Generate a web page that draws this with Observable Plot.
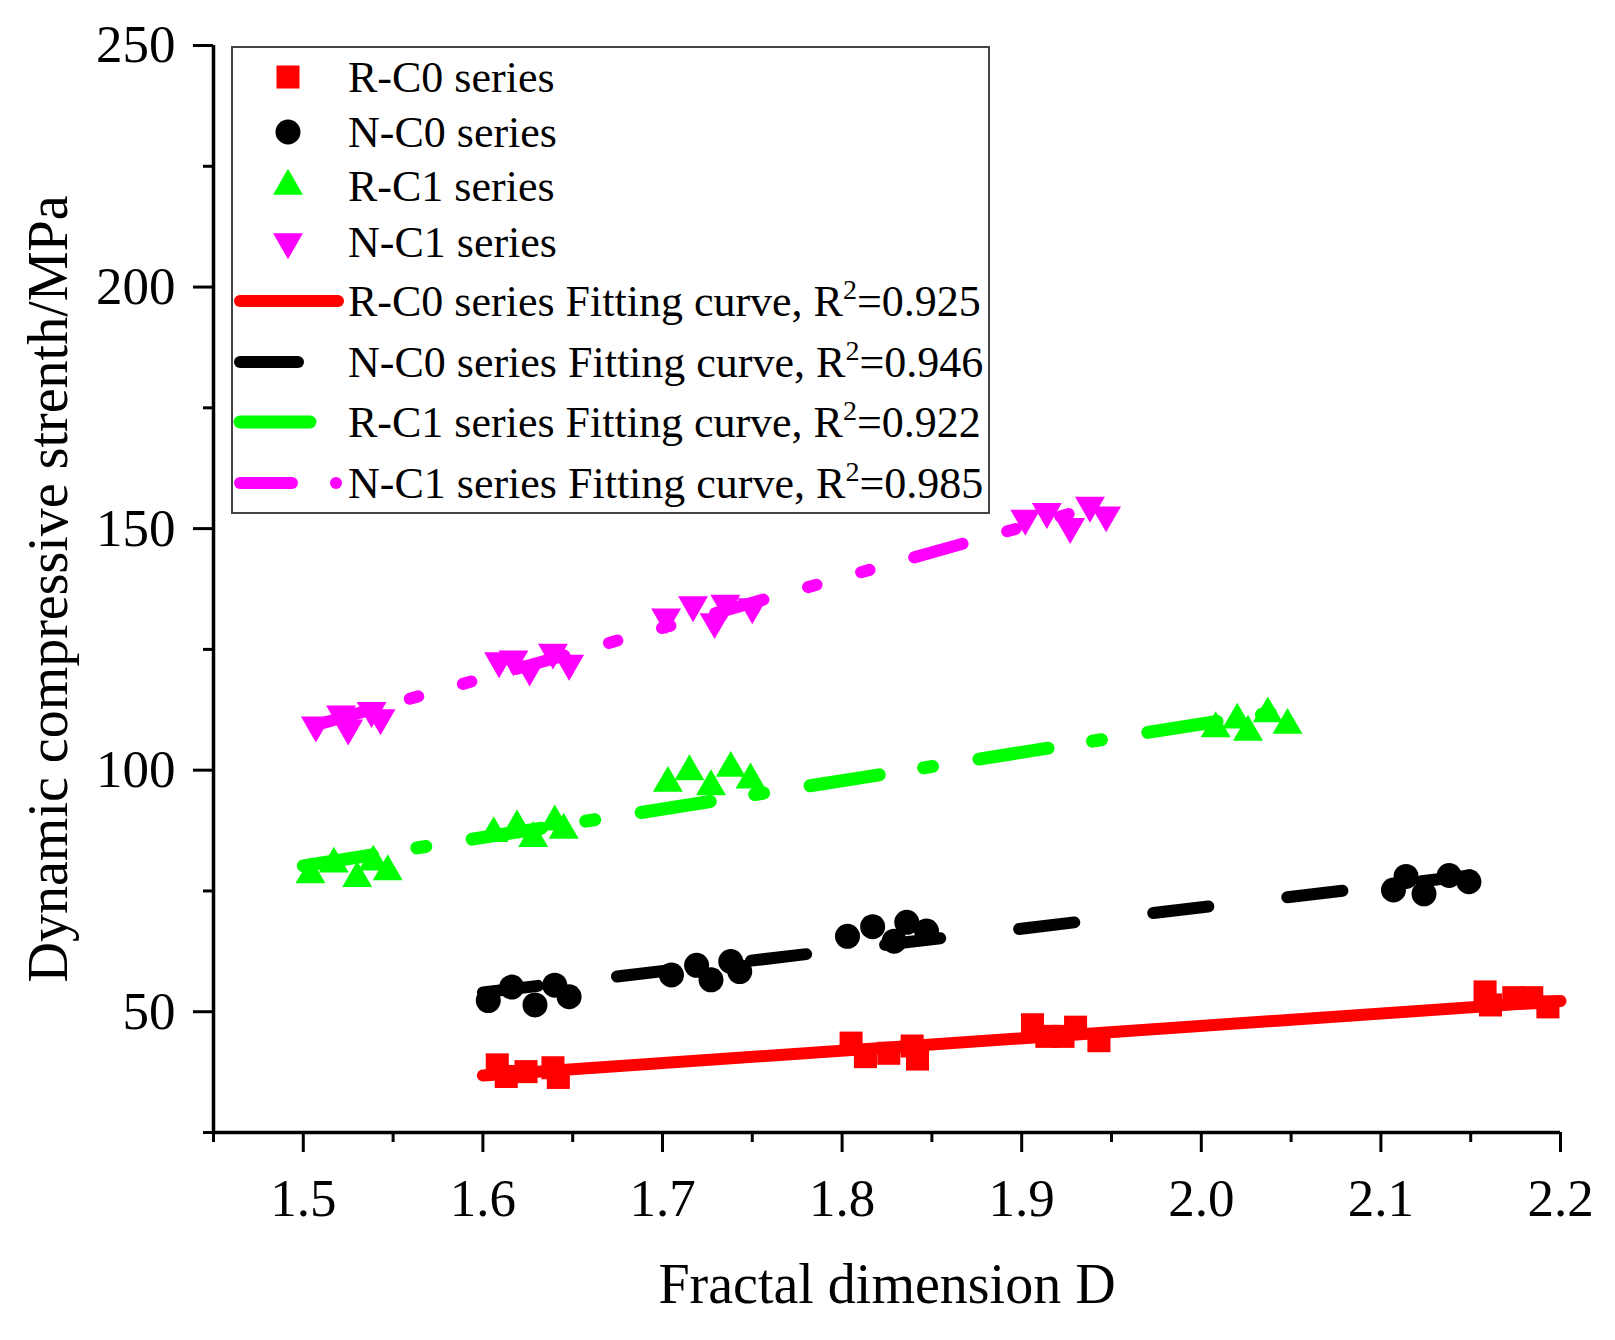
<!DOCTYPE html>
<html><head><meta charset="utf-8">
<script src="https://cdn.jsdelivr.net/npm/d3@7"></script>
<script src="https://cdn.jsdelivr.net/npm/@observablehq/plot@0.6"></script>
<style>
html,body{margin:0;padding:0;background:#fff;}
#wrap{position:relative;width:1615px;height:1340px;}
#legend{position:absolute;left:0;top:0;pointer-events:none;}
</style></head><body><div id="wrap"></div>
<script>
// ---- data ----
const xDomain = [1.45, 2.2];
const yDomain = [25, 250];
const xMajor = [1.5, 1.6, 1.7, 1.8, 1.9, 2.0, 2.1, 2.2];
const xMinor = [1.45, 1.55, 1.65, 1.75, 1.85, 1.95, 2.05, 2.15];
const yMajor = [50, 100, 150, 200, 250];
const yMinor = [25, 75, 125, 175, 225];

const rc0X = [1.608, 1.613, 1.624, 1.639, 1.642, 1.805, 1.813, 1.826, 1.839, 1.842, 1.906, 1.914, 1.923, 1.930, 1.943, 2.158, 2.161, 2.174, 2.184, 2.193];
const rc0Y = [39.0, 36.6, 37.6, 38.4, 36.4, 43.5, 40.7, 41.4, 42.9, 40.2, 47.3, 44.9, 44.9, 46.8, 44.0, 54.1, 51.4, 52.9, 52.9, 51.0];
const nc0X = [1.603, 1.616, 1.629, 1.640, 1.648, 1.705, 1.719, 1.727, 1.738, 1.743, 1.803, 1.817, 1.829, 1.836, 1.847, 2.107, 2.114, 2.124, 2.138, 2.149];
const nc0Y = [52.3, 55.1, 51.4, 55.5, 53.1, 57.6, 59.6, 56.6, 60.4, 58.3, 65.6, 67.6, 64.6, 68.5, 66.7, 75.2, 78.0, 74.4, 78.2, 76.9];
const rc1X = [1.504, 1.517, 1.530, 1.539, 1.547, 1.606, 1.619, 1.628, 1.640, 1.645, 1.703, 1.715, 1.727, 1.738, 1.749, 2.008, 2.020, 2.026, 2.037, 2.048];
const rc1Y = [78.4, 80.6, 77.6, 81.0, 79.0, 86.9, 88.3, 85.9, 89.3, 87.6, 97.3, 99.7, 96.6, 100.4, 98.0, 108.6, 110.4, 107.9, 111.7, 109.3];
const nc1X = [1.507, 1.521, 1.525, 1.538, 1.543, 1.609, 1.617, 1.626, 1.639, 1.648, 1.702, 1.717, 1.729, 1.735, 1.750, 1.902, 1.914, 1.927, 1.938, 1.947];
const nc1Y = [109.3, 111.6, 108.7, 112.3, 110.8, 122.6, 123.0, 120.9, 124.4, 122.1, 131.7, 134.2, 130.7, 134.5, 133.8, 152.1, 153.5, 150.4, 154.8, 152.8];

// fitting curves (end points)
const fitRC0X = [1.6, 2.2],  fitRC0Y = [36.8, 52.2];
const fitNC0X = [1.6, 2.15], fitNC0Y = [54.0, 78.2];
const fitRC1X = [1.5, 2.05], fitRC1Y = [80.2, 112.5];
const fitNC1X = [1.5, 1.95], fitNC1Y = [108.6, 155.5];

const seriesNames = ["R-C0", "N-C0", "R-C1", "N-C1"];
const r2Values = ["0.925", "0.946", "0.922", "0.985"];
const xTitle = "Fractal dimension D";
const yTitle = "Dynamic compressive strenth/MPa";

// ---- styles ----
const FONT = '"Liberation Serif","Times New Roman",Times,serif';
const styles = {
  "R-C0": {color: "#ff0000", symbol: "square", r: 13, rotate: 0, width: 12, dash: null, offset: 0},
  "N-C0": {color: "#000000", symbol: "circle", r: 12.5, rotate: 0, width: 12, dash: "55.5,79.5", offset: 0},
  "R-C1": {color: "#00ff00", symbol: "triangle", r: 11.1, rotate: 0, width: 13, dash: "70,45,9,47", offset: 0},
  "N-C1": {color: "#ff00ff", symbol: "triangle", r: 11.1, rotate: 180, width: 12, dash: "50.3,46.3,8.8,46.3,8.8,46.3", offset: -14}
};

const toRows = (xs, ys) => xs.map((x, i) => ({x, y: ys[i]}));
const pointSets = {"R-C0": toRows(rc0X, rc0Y), "N-C0": toRows(nc0X, nc0Y), "R-C1": toRows(rc1X, rc1Y), "N-C1": toRows(nc1X, nc1Y)};
const fitSets = {"R-C0": toRows(fitRC0X, fitRC0Y), "N-C0": toRows(fitNC0X, fitNC0Y), "R-C1": toRows(fitRC1X, fitRC1Y), "N-C1": toRows(fitNC1X, fitNC1Y)};

const lineMarks = seriesNames.map(n => Plot.line(fitSets[n], {
  x: "x", y: "y", stroke: styles[n].color, strokeWidth: styles[n].width,
  strokeLinecap: "round", strokeDasharray: styles[n].dash, strokeDashoffset: styles[n].offset
}));
const dotMarks = seriesNames.map(n => Plot.dot(pointSets[n], {
  x: "x", y: "y", symbol: styles[n].symbol, r: styles[n].r, rotate: styles[n].rotate,
  fill: styles[n].color, stroke: "none"
}));

const plot = Plot.plot({
  width: 1615, height: 1340,
  marginLeft: 213, marginRight: 55, marginTop: 45, marginBottom: 208,
  style: {fontFamily: FONT, color: "#000", background: "#fff", overflow: "visible"},
  x: {domain: xDomain},
  y: {domain: yDomain},
  marks: [
    Plot.axisX(xMajor, {tickSize: 20, tickPadding: 26, fontSize: 53, strokeWidth: 3, tickFormat: d3.format(".1f"), label: null}),
    Plot.axisX(xMinor, {tickSize: 10, strokeWidth: 3, tickFormat: () => "", label: null}),
    Plot.axisY(yMajor, {tickSize: 20, tickPadding: 18, fontSize: 53, strokeWidth: 3, label: null}),
    Plot.axisY(yMinor, {tickSize: 10, strokeWidth: 3, tickFormat: () => "", label: null}),
    Plot.ruleX([xDomain[0]], {strokeWidth: 3.5}),
    Plot.ruleY([yDomain[0]], {strokeWidth: 3.5}),
    ...lineMarks,
    ...dotMarks,
    Plot.text([xTitle], {text: d => d, frameAnchor: "bottom", dy: 170, fontSize: 56, textAnchor: "middle"}),
    Plot.text([yTitle], {text: d => d, frameAnchor: "left", dx: -164, rotate: -90, fontSize: 56, textAnchor: "middle"})
  ]
});
const wrap = document.getElementById("wrap");
wrap.appendChild(plot);

// ---- legend overlay ----
const lg = d3.select(wrap).append("svg").attr("id", "legend")
  .attr("width", 1615).attr("height", 1340)
  .style("font-family", FONT);
lg.append("rect").attr("x", 232).attr("y", 47).attr("width", 757).attr("height", 466)
  .attr("fill", "#fff").attr("stroke", "#444").attr("stroke-width", 2);
const rowY = [77, 132, 186, 242, 301, 362, 422, 483];
const textX = 348, symX = 288, FS = 44;
const symType = {square: d3.symbolSquare, circle: d3.symbolCircle, triangle: d3.symbolTriangle};
seriesNames.forEach((n, i) => {
  const s = styles[n];
  lg.append("path")
    .attr("d", d3.symbol().type(symType[s.symbol]).size(Math.PI * s.r * s.r)())
    .attr("transform", `translate(${symX},${rowY[i]}) rotate(${s.rotate})`)
    .attr("fill", s.color);
  lg.append("text").attr("x", textX).attr("y", rowY[i]).attr("dy", "0.35em")
    .attr("font-size", FS).text(`${n} series`);
});
const lineEnds = {"R-C0": [[240, 338]], "N-C0": [[240, 298]], "R-C1": [[240, 310]], "N-C1": [[240, 292], [336, 336]]};
seriesNames.forEach((n, i) => {
  const s = styles[n];
  const y = rowY[i + 4];
  lineEnds[n].forEach(([a, b]) => {
    lg.append("line").attr("x1", a).attr("x2", b).attr("y1", y).attr("y2", y)
      .attr("stroke", s.color).attr("stroke-width", s.width).attr("stroke-linecap", "round");
  });
  const t = lg.append("text").attr("x", textX).attr("y", y).attr("dy", "0.35em").attr("font-size", FS);
  t.append("tspan").text(`${n} series Fitting curve, R`);
  t.append("tspan").attr("font-size", 28).attr("dy", -17).text("2");
  t.append("tspan").attr("font-size", FS).attr("dy", 17).text(`=${r2Values[i]}`);
});
</script></body></html>
